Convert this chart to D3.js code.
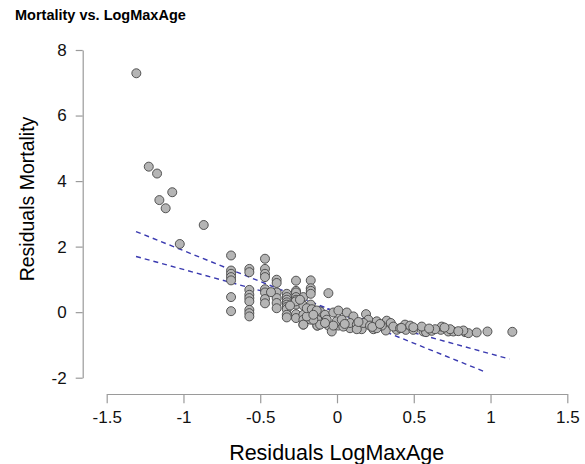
<!DOCTYPE html>
<html>
<head>
<meta charset="utf-8">
<script src="https://cdn.jsdelivr.net/npm/d3@7"></script>
<style>
  body { margin: 0; background: #fff; }
  text { font-family: "Liberation Sans", Arial, sans-serif; }
  .axis path, .axis line { stroke: #9a9a9a; stroke-width: 1.2; }
  .axis text { fill: #111; font-size: 17px; }
</style>
</head>
<body>
<svg id="chart" width="585" height="464"></svg>
<script>
// residuals
var resLogMaxAge = [
  -1.307, -1.226, -1.172, -1.073, -1.157, -1.116, -0.868, -1.024,
  -0.690, -0.690, -0.690, -0.690, -0.690, -0.690, -0.690,
  -0.571, -0.571, -0.571, -0.571, -0.571, -0.571, -0.571, -0.571, -0.571,
  -0.469, -0.469, -0.469, -0.469, -0.469, -0.469, -0.469, -0.469,
  -0.393, -0.393, -0.393, -0.393, -0.393, -0.393, -0.430,
  -0.327, -0.327, -0.327, -0.327, -0.327, -0.327, -0.327, -0.327, -0.327,
  -0.267, -0.267, -0.267, -0.267, -0.267, -0.267, -0.267, -0.267,
  -0.219, -0.219, -0.219, -0.219, -0.219,
  -0.171, -0.171, -0.171, -0.171, -0.171, -0.171, -0.171, -0.171,
  -0.056, -0.128, -0.128, -0.128, -0.128,
  -0.219, -0.128, -0.056, -0.034, 0.009, 0.085, 0.161, 0.237, 0.318, 0.389, 0.448, 0.497,
  0.563, 0.580, 0.617, 0.676, 0.725, 0.758, 0.834, 0.856, 0.910, 0.980, 1.142,
  -0.110, -0.078, -0.024, 0.009, 0.064, 0.107, 0.189, 0.204, 0.259, 0.324, 0.350, 0.443,
  0.476, 0.552, 0.682, 0.737, 0.823, 0.639, 0.497,
  -0.067, -0.002, 0.031, 0.085, 0.129, 0.172, 0.215, 0.292, 0.367, 0.411, -0.110, -0.154,
  -0.024, 0.041, 0.259, 0.129, -0.078, -0.197,
  -0.269, -0.241, -0.197, -0.164, -0.132, -0.154, -0.306,
  0.050, 0.140, 0.230, 0.280, 0.420, 0.600, 0.700, 0.790
];
var resMortality = [
  7.29, 4.44, 4.23, 3.66, 3.42, 3.17, 2.66, 2.08,
  1.73, 1.27, 1.17, 1.07, 0.97, 0.46, 0.03,
  1.32, 1.22, 0.68, 0.53, 0.43, 0.33, 0.07, -0.03, -0.13,
  1.63, 1.32, 1.17, 1.07, 0.70, 0.60, 0.40, 0.27,
  0.99, 0.89, 0.60, 0.43, 0.28, 0.12, 0.61,
  0.56, 0.46, 0.38, 0.30, 0.23, 0.16, 0.09, -0.08, -0.16,
  0.96, 0.65, 0.60, 0.46, 0.38, 0.23, -0.06, -0.18,
  0.46, 0.20, -0.08, -0.23, -0.38,
  0.97, 0.73, 0.65, 0.56, 0.23, -0.05, -0.15, -0.23,
  0.58, -0.03, -0.13, -0.23, -0.41,
  -0.38, -0.41, -0.41, -0.59, -0.41, -0.49, -0.52, -0.52, -0.56, -0.54, -0.54, -0.54,
  -0.59, -0.61, -0.57, -0.54, -0.59, -0.59, -0.61, -0.64, -0.62, -0.59, -0.60,
  0.02, -0.08, -0.01, 0.05, -0.01, -0.13, -0.06, -0.23, -0.28, -0.26, -0.33, -0.38,
  -0.41, -0.44, -0.44, -0.52, -0.56, -0.52, -0.46,
  -0.23, -0.28, -0.23, -0.33, -0.38, -0.33, -0.41, -0.41, -0.44, -0.49, -0.38, -0.23,
  -0.41, -0.44, -0.49, -0.52, -0.33, -0.13,
  0.33, 0.38, 0.12, 0.09, 0.05, -0.08, 0.20,
  -0.36, -0.30, -0.45, -0.36, -0.48, -0.50, -0.47, -0.58
];
// two dashed fit lines: [x0, y0, x1, y1]
var fitLineA = [-1.309, 2.46, 0.958, -1.81];
var fitLineB = [-1.309, 1.70, 1.123, -1.43];
var xTicks = [-1.5, -1, -0.5, 0, 0.5, 1, 1.5];
var yTicks = [-2, 0, 2, 4, 6, 8];

var svg = d3.select("#chart");

var x = d3.scaleLinear().domain([-1.5, 1.5]).range([106.7, 567.3]);
var y = d3.scaleLinear().domain([-2, 8]).range([377.7, 50]);

var pts = resLogMaxAge.map(function (d, i) { return { x: d, y: resMortality[i] }; });

svg.append("text")
  .attr("x", 15).attr("y", 20)
  .attr("font-size", 14.5).attr("font-weight", "bold")
  .text("Mortality vs. LogMaxAge");

svg.append("g")
  .attr("class", "axis")
  .attr("transform", "translate(0,394)")
  .call(d3.axisBottom(x).tickValues(xTicks).tickSize(9.3).tickSizeOuter(0).tickPadding(7.4)
    .tickFormat(function (d) { return String(d); }));

svg.append("g")
  .attr("class", "axis")
  .attr("transform", "translate(82.7,0)")
  .call(d3.axisLeft(y).tickValues(yTicks).tickSize(7).tickSizeOuter(0).tickPadding(9)
    .tickFormat(function (d) { return String(d); }));

svg.append("text")
  .attr("x", 336.7).attr("y", 460)
  .attr("text-anchor", "middle").attr("font-size", 21.5)
  .text("Residuals LogMaxAge");

svg.append("text")
  .attr("transform", "translate(33.5,199) rotate(-90)")
  .attr("text-anchor", "middle").attr("font-size", 19.5)
  .text("Residuals Mortality");

svg.selectAll(".fit")
  .data([fitLineA, fitLineB])
  .join("line")
  .attr("class", "fit")
  .attr("x1", function (d) { return x(d[0]); })
  .attr("y1", function (d) { return y(d[1]); })
  .attr("x2", function (d) { return x(d[2]); })
  .attr("y2", function (d) { return y(d[3]); })
  .attr("stroke", "#3a3ab0")
  .attr("stroke-width", 1.4)
  .attr("stroke-dasharray", "5,4");

svg.selectAll(".pt")
  .data(pts)
  .join("circle")
  .attr("class", "pt")
  .attr("cx", function (d) { return x(d.x); })
  .attr("cy", function (d) { return y(d.y); })
  .attr("r", 4.5)
  .attr("fill", "#b5b5b5")
  .attr("stroke", "#454545")
  .attr("stroke-width", 0.9);
</script>
</body>
</html>
